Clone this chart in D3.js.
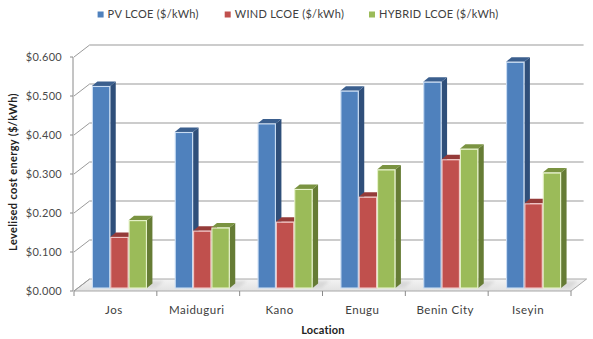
<!DOCTYPE html>
<html>
<head>
<meta charset="utf-8">
<script src="https://cdn.jsdelivr.net/npm/d3@7"></script>
<style>
  html, body { margin: 0; padding: 0; background: #ffffff; }
  svg { display: block; }
  text { font-family: Lato, "Open Sans", sans-serif; }
</style>
</head>
<body>
<svg id="chart" width="593" height="339"></svg>
<script>
// Levelised cost of energy by location, three technologies
const categories = ["Jos", "Maiduguri", "Kano", "Enugu", "Benin City", "Iseyin"];
const seriesNames = ["PV LCOE ($/kWh)", "WIND LCOE ($/kWh)", "HYBRID LCOE ($/kWh)"];
const pvValues     = [0.518, 0.400, 0.422, 0.506, 0.529, 0.580];
const windValues   = [0.131, 0.147, 0.170, 0.234, 0.330, 0.217];
const hybridValues = [0.174, 0.155, 0.254, 0.304, 0.357, 0.296];
const yTickValues  = [0, 0.1, 0.2, 0.3, 0.4, 0.5, 0.6];
const yTitle = "Levelised cost energy ($/kWh)";
const xTitle = "Location";

const seriesValues = [pvValues, windValues, hybridValues];
const palette = [
  { front: "#4f81bd", side: "#2f4f7a", top: "#3b5f8e", edge: "#c9dcf3" },
  { front: "#c0504d", side: "#7e2f2d", top: "#953b39", edge: "#f3c7c6" },
  { front: "#9bbb59", side: "#667c35", top: "#7a9341", edge: "#e6f2c9" }
];

const svg = d3.select("#chart");

// Front plane geometry and the depth vector of the box
const floorX0 = 74, floorX1 = 571;
const depthX = 15.6, depthY = -12;
const barPlaneX = 4, barPlaneY = -3;     // bars sit a little behind the front edge
const barDepthX = 5.5, barDepthY = -4.5; // thickness of each column

const y = d3.scaleLinear().domain([0, 0.6]).range([291, 57]);
const x = d3.scaleBand().domain(categories).range([floorX0, floorX1]);
const inner = d3.scaleBand().domain(seriesNames).range([0, 55]);

// Floor
const floorPts = [
  [floorX0, y(0)], [floorX1, y(0)],
  [floorX1 + depthX, y(0) + depthY], [floorX0 + depthX, y(0) + depthY]
];
const floorGrad = svg.append("defs").append("linearGradient")
  .attr("id", "floorGrad").attr("x1", 0).attr("y1", 0).attr("x2", 0).attr("y2", 1);
floorGrad.append("stop").attr("offset", "0%").attr("stop-color", "#f4f4f4");
floorGrad.append("stop").attr("offset", "100%").attr("stop-color", "#e2e2e2");
svg.select("defs").append("filter").attr("id", "soft")
  .append("feGaussianBlur").attr("stdDeviation", 1.6);

svg.append("polygon")
  .attr("points", floorPts.map(p => p.join(",")).join(" "))
  .attr("fill", "url(#floorGrad)")
  .attr("stroke", "#a8a8a8").attr("stroke-width", 1);

// Back wall gridlines and side wall diagonals
const grid = svg.append("g");
yTickValues.forEach(v => {
  if (v > 0) {
    grid.append("line")
      .attr("x1", floorX0 + depthX).attr("x2", floorX1 + depthX - 3)
      .attr("y1", y(v) + depthY).attr("y2", y(v) + depthY)
      .attr("stroke", "#9a9a9a").attr("stroke-width", 1.2);
  }
  grid.append("line")
    .attr("x1", floorX0).attr("y1", y(v))
    .attr("x2", floorX0 + depthX).attr("y2", y(v) + depthY)
    .attr("stroke", "#9a9a9a").attr("stroke-width", 1);
});

// Front vertical axis line and its ticks
svg.append("line")
  .attr("x1", floorX0 - 1).attr("x2", floorX0 - 1)
  .attr("y1", y(0.6)).attr("y2", y(0))
  .attr("stroke", "#8a8a8a").attr("stroke-width", 1);
svg.append("g").selectAll("line").data(yTickValues).join("line")
  .attr("x1", floorX0 - 4).attr("x2", floorX0 - 1)
  .attr("y1", d => y(d)).attr("y2", d => y(d))
  .attr("stroke", "#8a8a8a");

// Y tick labels
const fmt = d3.format("$.3f");
svg.append("g").selectAll("text").data(yTickValues).join("text")
  .attr("x", 62).attr("y", d => y(d)).attr("dy", "0.35em")
  .attr("text-anchor", "end")
  .attr("font-size", 11).attr("fill", "#4a4a4a").attr("letter-spacing", 0.3)
  .text(d => fmt(d));

// Category boundary ticks under the floor edge
const bounds = categories.map(c => x(c)).concat([floorX1]);
svg.append("g").selectAll("line").data(bounds).join("line")
  .attr("x1", d => d).attr("x2", d => d)
  .attr("y1", y(0)).attr("y2", y(0) + 5)
  .attr("stroke", "#8a8a8a");

// Soft floor shadows behind each cluster
svg.append("g").selectAll("polygon").data(categories).join("polygon")
  .attr("points", c => {
    const x0 = x(c) + (x.bandwidth() - 55) / 2 + barPlaneX;
    const yb = y(0) + barPlaneY;
    return [[x0 + 10, yb], [x0 + 64, yb], [x0 + 72, yb - 7], [x0 + 18, yb - 7]]
      .map(p => p.join(",")).join(" ");
  })
  .attr("fill", "#d0d0d0").attr("opacity", 0.7).attr("filter", "url(#soft)");

// 3D columns
const bars = svg.append("g");
categories.forEach((c, ci) => {
  const x0 = x(c) + (x.bandwidth() - 55) / 2 + barPlaneX;
  seriesNames.forEach((s, si) => {
    const v = seriesValues[si][ci];
    const col = palette[si];
    const bx = x0 + inner(s), bw = inner.bandwidth();
    const yb = y(0) + barPlaneY, yt = y(v) + barPlaneY;
    const g = bars.append("g");
    // right side
    g.append("polygon")
      .attr("points", [[bx + bw, yt], [bx + bw + barDepthX, yt + barDepthY],
                       [bx + bw + barDepthX, yb + barDepthY], [bx + bw, yb]]
        .map(p => p.join(",")).join(" "))
      .attr("fill", col.side);
    // top
    g.append("polygon")
      .attr("points", [[bx, yt], [bx + bw, yt], [bx + bw + barDepthX, yt + barDepthY],
                       [bx + barDepthX, yt + barDepthY]]
        .map(p => p.join(",")).join(" "))
      .attr("fill", col.top);
    // front
    g.append("rect")
      .attr("x", bx + 0.5).attr("y", yt + 0.5)
      .attr("width", bw - 1).attr("height", yb - yt - 0.5)
      .attr("fill", col.front)
      .attr("stroke", col.edge).attr("stroke-width", 1.1);
  });
});

// Category labels
svg.append("g").selectAll("text").data(categories).join("text")
  .attr("x", d => x(d) + x.bandwidth() / 2 - 1.5).attr("y", 313.5)
  .attr("text-anchor", "middle")
  .attr("font-size", 11.5).attr("fill", "#404040").attr("letter-spacing", 0.5)
  .text(d => d);

// Axis titles
svg.append("text")
  .attr("x", 323).attr("y", 334)
  .attr("text-anchor", "middle")
  .attr("font-size", 11).attr("font-weight", "bold").attr("fill", "#222")
  .attr("letter-spacing", 0.2)
  .text(xTitle);
svg.append("text")
  .attr("transform", "translate(17,172) rotate(-90)")
  .attr("text-anchor", "middle")
  .attr("font-size", 11).attr("font-weight", "bold").attr("fill", "#222")
  .attr("letter-spacing", 0.35)
  .text(yTitle);

// Legend
const legendX = [97.6, 224.7, 369];
const legend = svg.append("g");
seriesNames.forEach((s, i) => {
  legend.append("rect")
    .attr("x", legendX[i]).attr("y", 11.5).attr("width", 6).attr("height", 6)
    .attr("fill", palette[i].front);
  legend.append("text")
    .attr("x", legendX[i] + 10).attr("y", 14.5).attr("dy", "0.35em")
    .attr("font-size", 11).attr("fill", "#404040").attr("letter-spacing", 0.3)
    .text(s);
});
</script>
</body>
</html>
